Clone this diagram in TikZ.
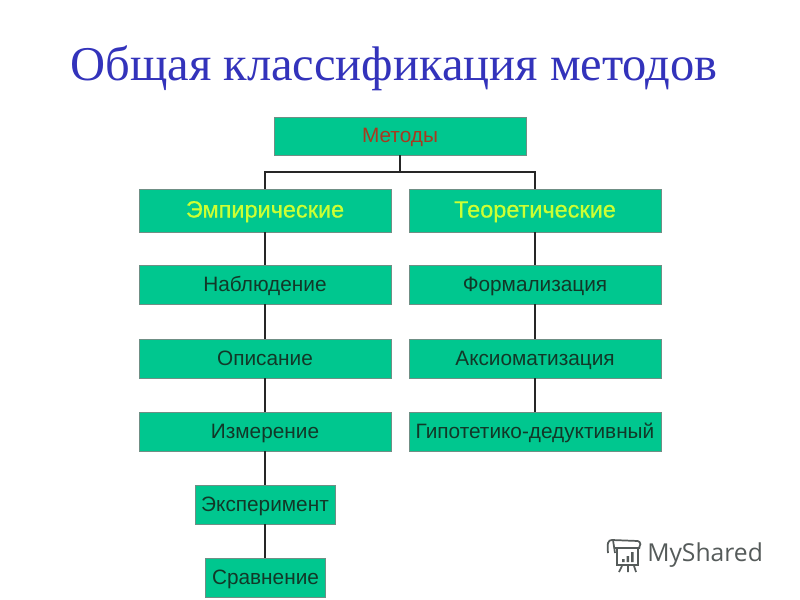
\documentclass[tikz,border=0pt]{standalone}
\usepackage{fontspec}
\setmainfont{Liberation Sans}
\newfontfamily\titlefont{Liberation Serif}
\newfontfamily\logofont{Open Sans}
\newfontfamily\headfont[FakeBold=0.6]{Liberation Sans}
\definecolor{boxgreen}{HTML}{00C78F}
\definecolor{boxedge}{HTML}{6F8F85}
\definecolor{titleblue}{HTML}{3333BB}
\definecolor{boxdark}{HTML}{123828}
\definecolor{boxred}{HTML}{A8391F}
\definecolor{boxyellow}{HTML}{CCFF33}
\definecolor{logogray}{HTML}{555B5A}
\begin{document}
\begin{tikzpicture}[x=0.75pt,y=-0.75pt,
  bx/.style={draw=boxedge,line width=0.7pt,fill=boxgreen,inner sep=0pt,text=boxdark,font=\fontsize{15.6}{17}\selectfont,anchor=center,text height=13pt,text depth=3pt},
  hd/.style={bx,text=boxyellow,font=\headfont\fontsize{17.6}{19}\selectfont,text height=14pt,text depth=3.5pt},
  conn/.style={draw=black!85,line width=1.4pt},
  logoline/.style={draw=logogray,line width=1.3pt}]
\useasboundingbox (0,0) rectangle (800,600);
\fill[white] (0,0) rectangle (800,600);
\node[text=titleblue,font=\titlefont\fontsize{36.4}{40}\selectfont,anchor=center] (title) at (394,68) {Общая классификация методов};

\node[bx,minimum width=189pt,minimum height=28.5pt,text=boxred] (m) at (400,136) {Методы};
\node[hd,minimum width=189pt,minimum height=32.2pt] (e) at (265,210.5) {Эмпирические};
\node[hd,minimum width=189pt,minimum height=32.2pt] (t) at (535,210.5) {Теоретические};
\node[bx,minimum width=189pt,minimum height=29.2pt] (e1) at (265,284.5) {Наблюдение};
\node[bx,minimum width=189pt,minimum height=29.2pt] (e2) at (265,358.5) {Описание};
\node[bx,minimum width=189pt,minimum height=29.2pt] (e3) at (265,431.5) {Измерение};
\node[bx,minimum width=105pt,minimum height=29.2pt] (e4) at (265,504.5) {Эксперимент};
\node[bx,minimum width=89.5pt,minimum height=29.2pt] (e5) at (265.5,577.5) {Сравнение};
\node[bx,minimum width=189pt,minimum height=29.2pt] (t1) at (535,284.5) {Формализация};
\node[bx,minimum width=189pt,minimum height=29.2pt] (t2) at (535,358.5) {Аксиоматизация};
\node[bx,minimum width=189pt,minimum height=29.2pt] (t3) at (535,431.5) {Гипотетико-дедуктивный};

\coordinate (fork) at (400,172);
\draw[conn] (m.south) -- (fork);
\draw[conn] (e.north) |- (fork) -| (t.north);
\draw[conn] (e) -- (e1);
\draw[conn] (e1) -- (e2);
\draw[conn] (e2) -- (e3);
\draw[conn] (e3) -- (e4);
\draw[conn] (e4.south) -- (e4.south |- e5.north);
\draw[conn] (t) -- (t1);
\draw[conn] (t1) -- (t2);
\draw[conn] (t2) -- (t3);

% MyShared logo
\draw[logoline] (612,540) -- (638,541) (615,548) -- (640,548) (617,548) -- (617,565) -- (638,565) -- (638,548);
\draw[logoline] (612,540) .. controls (608,540) and (607,543) .. (608,553);
\draw[logoline] (613,540) -- (615,553);
\draw[logoline] (638,541) .. controls (641,542) and (641,546) .. (639,548);
\fill[logogray] (622,559) rectangle (624.5,562) (626.5,556) rectangle (629,562) (631,552) rectangle (633.5,562);
\draw[logoline] (622,566) -- (619,572) (628,566) -- (628,572) (634,566) -- (636,572);
\node[text=logogray,font=\logofont\fontsize{18.5}{20}\selectfont,anchor=west,inner sep=0pt] (logo) at (647,555) {MyShared};
\end{tikzpicture}
\end{document}
